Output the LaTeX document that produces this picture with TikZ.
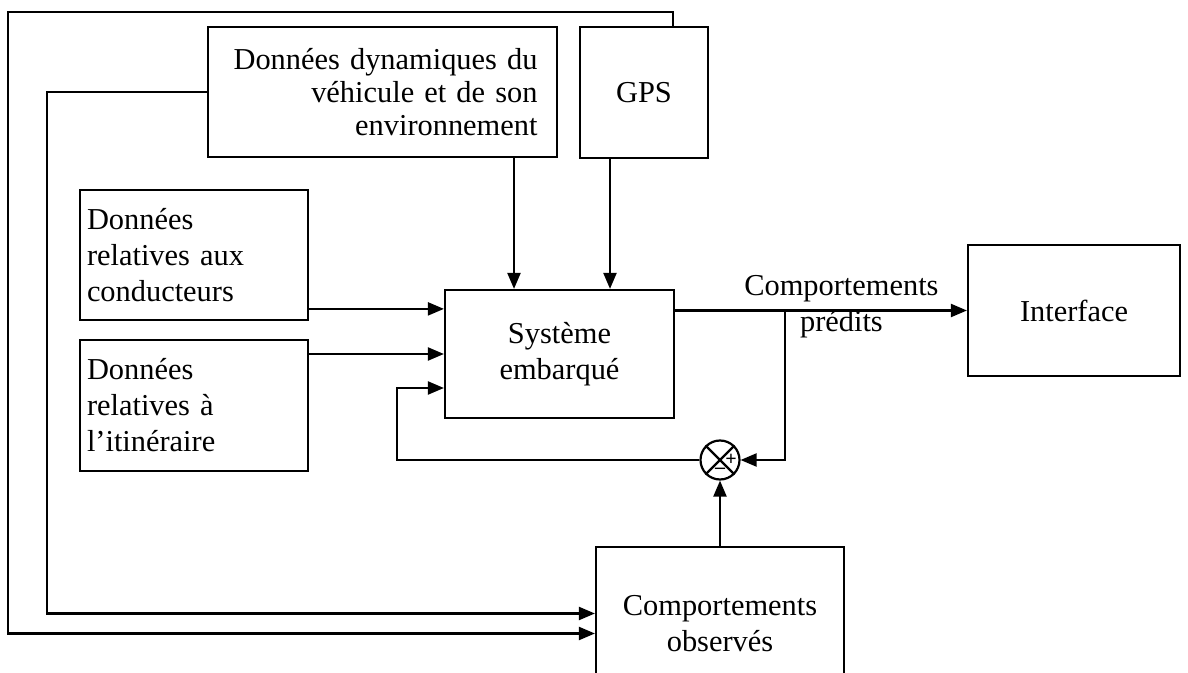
\documentclass[tikz,border=0pt]{standalone}
\usepackage{fontspec}
\setmainfont{Liberation Serif}
\usetikzlibrary{arrows.meta, positioning, calc}
\tikzset{
  every picture/.style={line width=1.1pt},
  every node/.style={font=\fontsize{15.2}{18}\selectfont},
  box/.style={draw, inner sep=0pt, align=center},
  leftbox/.style={box, minimum width=114pt, text width=107pt, inner xsep=3.5pt, align=left},
  arr/.style={-{Triangle[length=8pt, width=6.5pt]}},
  sumnode/.style={draw, circle, minimum size=19.5pt, inner sep=0pt},
  sign/.style={font=\fontsize{10}{10}\selectfont\bfseries, inner sep=0pt},
}

\begin{document}
\begin{tikzpicture}[x=0.5pt, y=-0.5pt]
  \useasboundingbox (0,0) rectangle (1188,673);
  \clip (0,0) rectangle (1188,673);

  % blocks
  \node[box, minimum width=174.5pt, minimum height=65pt, text width=155pt, inner xsep=9.75pt, align=right,
        font=\fontsize{15.2}{16.5}\selectfont] (dyn) at (382.5,92) {Données dynamiques du\\véhicule et de son\\environnement};
  \node[box, minimum width=64pt, minimum height=65.5pt] (gps) at (644,92.5) {GPS};
  \node[leftbox, minimum height=65pt] (cond) at (194,255) {Données\\relatives aux\\conducteurs};
  \node[leftbox, minimum height=65.5pt] (itin) at (194,405.5) {Données\\relatives à\\l’itinéraire};
  \node[box, minimum width=114.5pt, minimum height=64pt] (sys) at (559.5,354) {Système\\embarqué};
  \node[box, minimum width=106pt, minimum height=65.5pt] (iface) at (1074,310.5) {Interface};
  \node[box, minimum width=124pt, minimum height=76.5pt] (obs) at (720,623.5) {Comportements\\observés};

  % comparator
  \node[sumnode] (sum) at (720,460) {};
  \draw (sum.north west) -- (sum.south east) (sum.north east) -- (sum.south west);
  \node[sign] (plus) at ([xshift=5.5pt]sum.center) {+};
  \node[sign] (minus) at ([yshift=-5.5pt]sum.center) {--};

  \coordinate (dynin) at ([xshift=-22.75pt]sys.north);
  \coordinate (gpsin) at ([xshift=25.25pt]sys.north);
  \coordinate (condin) at ([yshift=-10pt]sys.north west);
  \coordinate (fbin) at ([yshift=-17pt]sys.west);
  \coordinate (br) at (785,310.5);

  % connectors
  \draw[arr] (dyn.south -| dynin) -- (dynin);
  \draw[arr] (gps.south -| gpsin) -- (gpsin);
  \draw[arr] (cond.east |- condin) -- (condin);
  \draw[arr] (itin.east |- sys.west) -- (sys.west);
  \draw[arr] (sum.west) -| ([xshift=-23.5pt]fbin) -- (fbin);
  \draw[arr] (sys.east |- iface.west) -- node[pos=0.57, yshift=2pt, align=center] (pred) {Comportements\\prédits} (iface.west);
  \draw[arr] (br) |- (sum.east);
  \draw[arr] (obs.north) -- (sum.south);

  % feedback loops
  \draw[arr] ([xshift=47pt]gps.north west) |- (8,12) |- ([yshift=-5pt]obs.west);
  \draw[arr] (dyn.west) -| (47,613.5) -- ([yshift=5pt]obs.west);
\end{tikzpicture}
\end{document}
